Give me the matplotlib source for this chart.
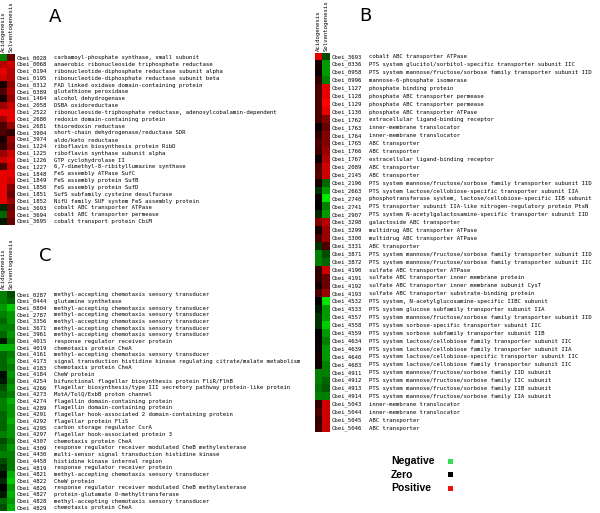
import numpy as np
import matplotlib
matplotlib.use("Agg")
import matplotlib.pyplot as plt
from matplotlib.colors import LinearSegmentedColormap

# ---- panel A: redox / cofactor genes ----
a_ids = ["Cbei_0028", "Cbei_0068", "Cbei_0194", "Cbei_0195", "Cbei_0312", "Cbei_0389",
         "Cbei_1464", "Cbei_2058", "Cbei_2522", "Cbei_2680", "Cbei_2681", "Cbei_3904",
         "Cbei_3974", "Cbei_1224", "Cbei_1225", "Cbei_1226", "Cbei_1227", "Cbei_1848",
         "Cbei_1849", "Cbei_1850", "Cbei_1851", "Cbei_1852", "Cbei_3693", "Cbei_3694",
         "Cbei_3695"]
a_desc = ["carbamoyl-phosphate synthase, small subunit",
          "anaerobic ribonucleoside triphosphate reductase",
          "ribonucleotide-diphosphate reductase subunit alpha",
          "ribonucleotide-diphosphate reductase subunit beta",
          "FAD linked oxidase domain-containing protein",
          "glutathione peroxidase",
          "alcohol dehydrogenase",
          "DSBA oxidoreductase",
          "ribonucleoside-triphosphate reductase, adenosylcobalamin-dependent",
          "redoxin domain-containing protein",
          "thioredoxin reductase",
          "short-chain dehydrogenase/reductase SDR",
          "aldo/keto reductase",
          "riboflavin biosynthesis protein RibD",
          "riboflavin synthase subunit alpha",
          "GTP cyclohydrolase II",
          "6,7-dimethyl-8-ribityllumazine synthase",
          "FeS assembly ATPase SufC",
          "FeS assembly protein SufB",
          "FeS assembly protein SufD",
          "SufS subfamily cysteine desulfurase",
          "NifU family SUF system FeS assembly protein",
          "cobalt ABC transporter ATPase",
          "cobalt ABC transporter permease",
          "cobalt transport protein CbiM"]
a_acid = [-0.5, 0.7, 0.9, 0.8, 0.1, 0.3, 0.1, 0.6, 0.9, 0.6, 0.3, 0.3, 0.1,
          0.2, 0.6, 0.8, 0.3, 0.9, 0.9, 0.9, 0.9, 0.9, -0.15, -0.4, -0.1]
a_solv = [0.4, 0.8, 0.7, 0.7, 0.6, 0.7, 0.6, 0.8, 0.9, 0.9, 0.6, 0.2, 0.6,
          0.5, 0.8, 0.9, 0.8, 0.9, 0.8, 0.5, 0.4, 0.6, 0.4, 0.5, 0.4]

# ---- panel B: transporters ----
b_ids = ["Cbei_3693", "Cbei_0336", "Cbei_0958", "Cbei_0996", "Cbei_1127", "Cbei_1128",
         "Cbei_1129", "Cbei_1130", "Cbei_1762", "Cbei_1763", "Cbei_1764", "Cbei_1765",
         "Cbei_1766", "Cbei_1767", "Cbei_2089", "Cbei_2145", "Cbei_2196", "Cbei_2663",
         "Cbei_2740", "Cbei_2741", "Cbei_2907", "Cbei_3298", "Cbei_3299", "Cbei_3300",
         "Cbei_3331", "Cbei_3871", "Cbei_3872", "Cbei_4190", "Cbei_4191", "Cbei_4192",
         "Cbei_4193", "Cbei_4532", "Cbei_4533", "Cbei_4557", "Cbei_4558", "Cbei_4559",
         "Cbei_4634", "Cbei_4639", "Cbei_4640", "Cbei_4683", "Cbei_4911", "Cbei_4912",
         "Cbei_4913", "Cbei_4914", "Cbei_5043", "Cbei_5044", "Cbei_5045", "Cbei_5046"]
b_desc = ["cobalt ABC transporter ATPase",
          "PTS system glucitol/sorbitol-specific transporter subunit IIC",
          "PTS system mannose/fructose/sorbose family transporter subunit IID",
          "mannose-6-phosphate isomerase",
          "phosphate binding protein",
          "phosphate ABC transporter permease",
          "phosphate ABC transporter permease",
          "phosphate ABC transporter ATPase",
          "extracellular ligand-binding receptor",
          "inner-membrane translocator",
          "inner-membrane translocator",
          "ABC transporter",
          "ABC transporter",
          "extracellular ligand-binding receptor",
          "ABC transporter",
          "ABC transporter",
          "PTS system mannose/fructose/sorbose family transporter subunit IID",
          "PTS system lactose/cellobiose-specific transporter subunit IIA",
          "phosphotransferase system, lactose/cellobiose-specific IIB subunit",
          "PTS transporter subunit IIA-like nitrogen-regulatory protein PtsN",
          "PTS system N-acetylgalactosamine-specific transporter subunit IID",
          "galactoside ABC transporter",
          "multidrug ABC transporter ATPase",
          "multidrug ABC transporter ATPase",
          "ABC transporter",
          "PTS system mannose/fructose/sorbose family transporter subunit IID",
          "PTS system mannose/fructose/sorbose family transporter subunit IIC",
          "sulfate ABC transporter ATPase",
          "sulfate ABC transporter inner membrane protein",
          "sulfate ABC transporter inner membrane subunit CysT",
          "sulfate ABC transporter substrate-binding protein",
          "PTS system, N-acetylglucosamine-specific IIBC subunit",
          "PTS system glucose subfamily transporter subunit IIA",
          "PTS system mannose/fructose/sorbose family transporter subunit IID",
          "PTS system sorbose-specific transporter subunit IIC",
          "PTS system sorbose subfamily transporter subunit IIB",
          "PTS system lactose/cellobiose family transporter subunit IIC",
          "PTS system lactose/cellobiose family transporter subunit IIA",
          "PTS system lactose/cellobiose-specific transporter subunit IIC",
          "PTS system lactose/cellobiose family transporter subunit IIC",
          "PTS system mannose/fructose/sorbose family IID subunit",
          "PTS system mannose/fructose/sorbose family IIC subunit",
          "PTS system mannose/fructose/sorbose family IIB subunit",
          "PTS system mannose/fructose/sorbose family IIA subunit",
          "inner-membrane translocator",
          "inner-membrane translocator",
          "ABC transporter",
          "ABC transporter"]
b_acid = [0.9, 0.1, 0.05, 0.2, 0.3, 0.3, 0.3, 0.3, 0.3, 0.05, 0.2, 0.3,
          0.25, 0.05, 0.3, 0.35, 0.1, -0.2, 0.05, 0.0, -0.15, 0.5, 0.1, 0.3,
          -0.2, -0.5, -0.5, 0.2, 0.2, 0.1, 0.3, 0.0, -0.1, -0.2, -0.2, 0.0,
          0.05, 0.05, 0.1, 0.05, -0.5, -0.5, -0.45, -0.5, 0.2, 0.3, 0.2, 0.25]
b_solv = [-0.3, -0.6, -0.6, -0.5, 0.9, 0.9, 1.0, 0.9, 0.5, 0.4, 0.5, 0.5,
          0.6, 0.7, 0.8, 0.8, -0.4, -0.6, -0.9, -0.5, -0.6, 0.7, 0.6, 0.6,
          0.3, -0.3, -0.4, 0.8, 0.4, 0.4, 0.6, -0.9, -0.6, -0.6, -0.8, -0.6,
          -0.5, -0.6, -0.6, -0.5, -0.5, -0.4, -0.35, -0.5, 0.8, 0.8, 0.8, 0.8]

# ---- panel C: chemotaxis / motility ----
c_ids = ["Cbei_0287", "Cbei_0444", "Cbei_0804", "Cbei_2787", "Cbei_3356", "Cbei_3671",
         "Cbei_3961", "Cbei_4015", "Cbei_4019", "Cbei_4161", "Cbei_4173", "Cbei_4183",
         "Cbei_4184", "Cbei_4254", "Cbei_4266", "Cbei_4273", "Cbei_4274", "Cbei_4289",
         "Cbei_4291", "Cbei_4292", "Cbei_4295", "Cbei_4297", "Cbei_4307", "Cbei_4309",
         "Cbei_4430", "Cbei_4458", "Cbei_4819", "Cbei_4821", "Cbei_4822", "Cbei_4826",
         "Cbei_4827", "Cbei_4828", "Cbei_4829"]
mcp = "methyl-accepting chemotaxis sensory transducer"
c_desc = [mcp, "glutamine synthetase", mcp, mcp, mcp, mcp, mcp,
          "response regulator receiver protein",
          "chemotaxis protein CheA", mcp,
          "signal transduction histidine kinase regulating citrate/malate metabolism",
          "chemotaxis protein CheA",
          "CheW protein",
          "bifunctional flagellar biosynthesis protein FliR/FlhB",
          "flagellar biosynthesis/type III secretory pathway protein-like protein",
          "MotA/TolQ/ExbB proton channel",
          "flagellin domain-containing protein",
          "flagellin domain-containing protein",
          "flagellar hook-associated 2 domain-containing protein",
          "flagellar protein FliS",
          "carbon storage regulator CsrA",
          "flagellar hook-associated protein 3",
          "chemotaxis protein CheA",
          "response regulator receiver modulated CheB methylesterase",
          "multi-sensor signal transduction histidine kinase",
          "histidine kinase internal region",
          "response regulator receiver protein",
          mcp,
          "CheW protein",
          "response regulator receiver modulated CheB methylesterase",
          "protein-glutamate O-methyltransferase",
          mcp,
          "chemotaxis protein CheA"]
c_acid = [-0.5, -0.5, -0.6, -0.5, -0.4, -0.5, -0.4, -0.1, -0.7, -0.4, -0.4,
          -0.4, -0.05, -0.1, -0.3, -0.4, -0.5, -0.5, -0.4, -0.4, -0.4, -0.5,
          -0.3, -0.4, -0.5, -0.3, -0.2, -0.05, -0.15, 0.0, -0.1, -0.4, -0.3]
c_solv = [-0.3, -0.4, -0.8, -0.6, -0.6, -0.5, -0.6, -0.5, -0.7, -0.5, -0.6,
          -0.5, -0.6, -0.5, -0.6, -0.5, -0.7, -0.6, -0.6, -0.7, -0.6, -0.6,
          -0.5, -0.6, -0.5, -0.5, -0.5, -0.7, -0.8, -0.6, -0.7, -0.6, -0.7]

col_labels = ["Acidogenesis", "Solventogenesis"]
legend_labels = ["Negative", "Zero", "Positive"]
legend_colors = ["#33dd55", "#000000", "#ee1111"]

cmap = LinearSegmentedColormap.from_list("gkr", ["#00ff00", "#000000", "#ff0000"])
MONO = "DejaVu Sans Mono"
FS = 4.1

W, H = 600, 513
fig = plt.figure(figsize=(6, 5.13), dpi=100)


def px_axes(x, y, w, h):
    return fig.add_axes([x / W, 1 - (y + h) / H, w / W, h / H])


def panel(ids, desc, acid, solv, x0, top, row_h, label_right, letter, letter_xy):
    n = len(ids)
    hm = px_axes(x0, top, 15, n * row_h)
    hm.imshow(np.column_stack([acid, solv]), cmap=cmap, vmin=-1, vmax=1,
              aspect="auto", interpolation="nearest")
    hm.set_axis_off()
    for j, lab in enumerate(col_labels):
        hm.annotate(lab, xy=(j, -0.5), xytext=(0, 1.5), textcoords="offset points",
                    rotation=90, ha="center", va="bottom", fontsize=FS, family=MONO,
                    annotation_clip=False)
    lw = label_right - (x0 + 15)
    la = px_axes(x0 + 15, top, lw, n * row_h)
    la.set_xlim(0, lw)
    la.set_ylim(n - 0.5, -0.5)
    la.set_axis_off()
    for i in range(n):
        la.text(2, i, ids[i], fontsize=FS, family=MONO, va="center", ha="left",
                clip_on=True)
        la.text(39, i, desc[i], fontsize=FS, family=MONO, va="center", ha="left",
                clip_on=True)
    fig.text(letter_xy[0] / W, 1 - letter_xy[1] / H, letter, fontsize=13,
             ha="center", va="center")


panel(a_ids, a_desc, a_acid, a_solv, 0, 54.3, 6.83, 300, "A", (55, 17))
panel(b_ids, b_desc, b_acid, b_solv, 315, 52.8, 7.9, 600, "B", (365, 16))
panel(c_ids, c_desc, c_acid, c_solv, 0, 291.4, 6.66, 300, "C", (45, 256))

# legend
for k, (lab, col) in enumerate(zip(legend_labels, legend_colors)):
    yc = 461 + k * 13.5
    fig.text(391 / W, 1 - yc / H, lab, fontsize=7.5, fontweight="bold",
             family="Liberation Sans", ha="left", va="center")
    sq = px_axes(448, yc - 2.5, 5, 5)
    sq.set_facecolor(col)
    sq.set_xticks([])
    sq.set_yticks([])
    for s in sq.spines.values():
        s.set_visible(False)

fig.savefig("out.png", dpi=100)
